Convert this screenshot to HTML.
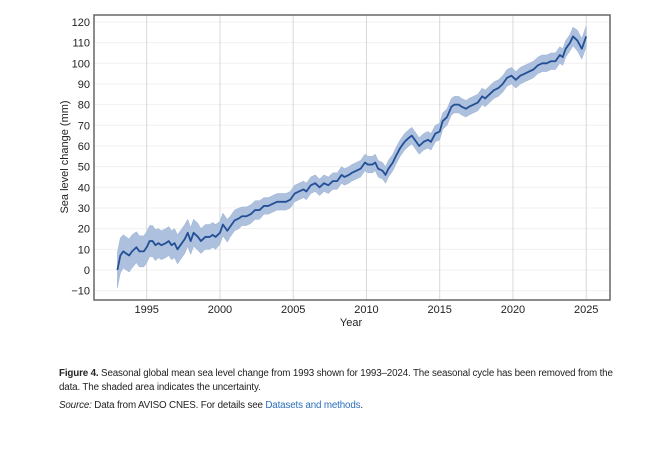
<!DOCTYPE html>
<html><head><meta charset="utf-8"><style>
body{margin:0;background:#fff;width:653px;height:454px;overflow:hidden;font-family:"Liberation Sans",sans-serif;}
svg{position:absolute;left:0;top:0}
.cap{position:absolute;left:59px;width:575px;font-size:9.8px;line-height:14px;color:#222;letter-spacing:-0.15px}
</style></head><body>
<svg width="653" height="340" id="chart"></svg>
<div class="cap" style="top:367px"><b>Figure 4.</b> Seasonal global mean sea level change from 1993 shown for 1993–2024. The seasonal cycle has been removed from the data. The shaded area indicates the uncertainty.</div>
<div class="cap" style="top:399px"><i>Source:</i> Data from AVISO CNES. For details see <span style="color:#2a6ebb">Datasets and methods</span>.</div>
<script>
const years=[1993.0,1993.2,1993.4,1993.6,1993.8,1994.0,1994.3,1994.5,1994.8,1995.0,1995.2,1995.4,1995.6,1995.8,1996.0,1996.3,1996.5,1996.7,1996.9,1997.1,1997.3,1997.6,1997.8,1998.0,1998.2,1998.5,1998.7,1999.0,1999.3,1999.5,1999.7,2000.0,2000.2,2000.5,2000.7,2001.0,2001.3,2001.5,2001.8,2002.1,2002.4,2002.7,2003.0,2003.3,2003.6,2003.9,2004.2,2004.5,2004.8,2005.1,2005.4,2005.7,2005.9,2006.2,2006.5,2006.8,2007.1,2007.4,2007.7,2008.0,2008.3,2008.5,2008.8,2009.0,2009.3,2009.6,2009.9,2010.1,2010.4,2010.6,2010.8,2011.1,2011.3,2011.5,2011.8,2012.0,2012.3,2012.6,2012.9,2013.1,2013.3,2013.6,2013.9,2014.2,2014.4,2014.7,2015.0,2015.2,2015.5,2015.8,2016.0,2016.3,2016.5,2016.8,2017.0,2017.3,2017.6,2017.9,2018.1,2018.4,2018.7,2019.0,2019.3,2019.6,2019.9,2020.2,2020.5,2020.8,2021.1,2021.4,2021.7,2022.0,2022.3,2022.6,2022.9,2023.2,2023.4,2023.6,2023.9,2024.1,2024.4,2024.7,2025.0];
const values=[0,7,9,8,7,9,11,9,9,11,14,14,12,13,12,13,14,12,13,10,12,15,18,14,18,16,14,16,16,17,16,18,22,19,21,24,25,26,26,27,29,29,31,31,32,33,33,33,34,37,38,39,38,41,42,40,42,41,43,43,46,45,46,47,48,49,52,51,51,52,49,48,46,49,52,55,59,62,64,65,63,60,62,63,62,66,67,72,74,79,80,80,79,78,79,80,81,84,83,85,87,88,90,93,94,92,94,95,96,97,99,100,100,101,101,104,103,107,110,113,111,107,113];
const halfWidths=[8.5,8.5,8,8,8,8,7.5,7.5,7.5,7.5,7.5,7.5,7.5,7,7,7,7,7,7,7,7,7,6.5,6.5,6.5,6.5,6,6,6,6,6,5.5,5.5,5.5,5,5,5,4.5,4.5,4.5,4.5,4.5,4,4,4,4,4,4,4,4,4,4,4,4,4,4,4,4,4,4,4,4,4,4,4,4,4,4,4,4,4,4,4,4,4,4,4,4,4,4,4,4,4,4,4,4,4,4,4,4,4,4,4,4,4,4,4,4,4,4,4,4,4,4,4,4,4,4,4,4,4,4,4,4,4,4,4,4,4,4.5,5,5,5,5];
const yTicks=[-10,0,10,20,30,40,50,60,70,80,90,100,110,120];
const xTicks=[1995,2000,2005,2010,2015,2020,2025];
const svg=document.getElementById('chart');const NS='http://www.w3.org/2000/svg';
const L=94,R=610,T=15,B=300;
const X=y=>146.7+(y-1995)*14.65;
const Y=v=>270-v*2.067;
function mk(t,a,p){const e=document.createElementNS(NS,t);for(const k in a)e.setAttribute(k,a[k]);(p||svg).appendChild(e);return e;}
yTicks.forEach(v=>{const g=mk('line',{x1:L,x2:R,y1:Y(v),y2:Y(v),stroke:'#f0f0f0','stroke-width':1});


const t=mk('text',{x:L-4,y:Y(v)+4,'text-anchor':'end','font-size':11,fill:'#222'});t.textContent=v<0?'\u2212'+(-v):v;

});
xTicks.forEach(v=>{const g=mk('line',{x1:X(v),x2:X(v),y1:T,y2:B,stroke:'#d8d8d8','stroke-width':1});


const t=mk('text',{x:X(v),y:B+13,'text-anchor':'middle','font-size':11,fill:'#222'});t.textContent=v;

});
let up=years.map((y,i)=>X(y)+','+Y(values[i]+halfWidths[i]));
let dn=years.map((y,i)=>X(y)+','+Y(values[i]-halfWidths[i])).reverse();
const band=mk('polygon',{points:up.concat(dn).join(' '),fill:'#adc0dd',stroke:'#9ab1d4','stroke-width':0.5});


const line=mk('polyline',{points:years.map((y,i)=>X(y)+','+Y(values[i])).join(' '),fill:'none',stroke:'#234f96','stroke-width':1.8,'stroke-linejoin':'round'});


const fr=mk('rect',{x:L,y:T,width:R-L,height:B-T,fill:'none',stroke:'#666','stroke-width':1.5});


const xt=mk('text',{x:351,y:326,'text-anchor':'middle','font-size':11,fill:'#222'});xt.textContent='Year';


const yt=mk('text',{x:0,y:0,transform:'translate(68,157) rotate(-90)','text-anchor':'middle','font-size':11,fill:'#222'});yt.textContent='Sea level change (mm)';


</script>
</body></html>
